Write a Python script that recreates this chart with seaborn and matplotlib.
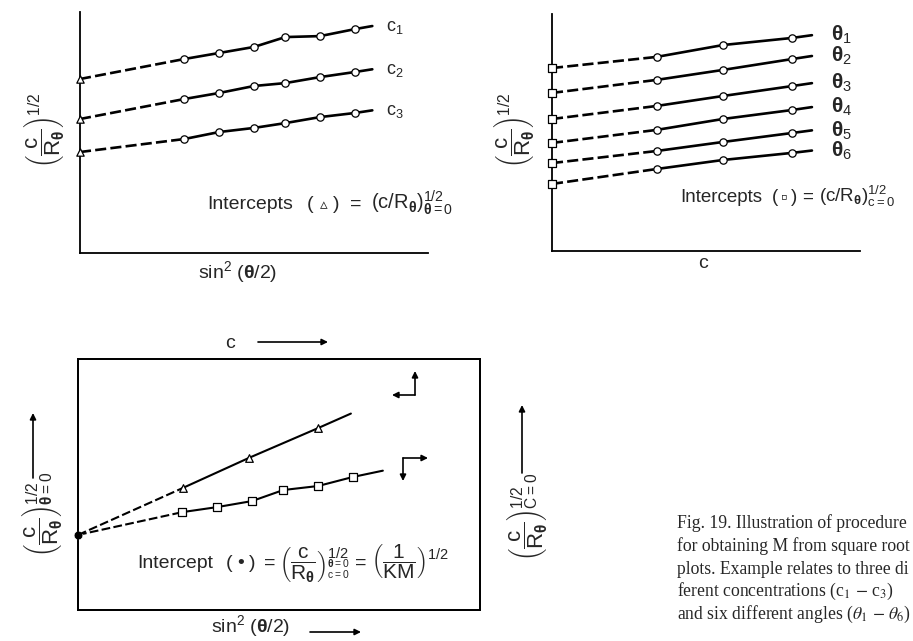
import numpy as np
import pandas as pd
import matplotlib
matplotlib.use("Agg")
import matplotlib.pyplot as plt
import seaborn as sns

# ---------------- data ----------------
# (a) square-root plot against sin^2(theta/2) for three concentrations
sin2 = [0.30, 0.40, 0.50, 0.59, 0.69, 0.79]
conc_names = ["c$_1$", "c$_2$", "c$_3$"]
c1_vals = [0.805, 0.830, 0.855, 0.896, 0.900, 0.929]
c2_vals = [0.639, 0.664, 0.693, 0.705, 0.730, 0.751]
c3_vals = [0.473, 0.502, 0.519, 0.539, 0.564, 0.581]
theta0_intercepts = [0.722, 0.556, 0.419]
sin2_line_end = 0.84

# (b) square-root plot against c for six angles
conc = [0.34, 0.555, 0.78]
angle_names = [r"$\mathbf{θ}_1$", r"$\mathbf{θ}_2$", r"$\mathbf{θ}_3$",
               r"$\mathbf{θ}_4$", r"$\mathbf{θ}_5$", r"$\mathbf{θ}_6$"]
t1_vals = [0.819, 0.869, 0.899]
t2_vals = [0.722, 0.764, 0.810]
t3_vals = [0.612, 0.654, 0.696]
t4_vals = [0.511, 0.557, 0.595]
t5_vals = [0.422, 0.460, 0.498]
t6_vals = [0.346, 0.384, 0.414]
c0_intercepts = [0.772, 0.667, 0.557, 0.456, 0.371, 0.283]
conc_line_end = 0.844

# (c) intercepts replotted; common intercept at the origin
double_intercept = 0.299
tri_vals = [0.486, 0.606, 0.725]      # theta = 0 intercepts vs c (top axis)
sq_vals = [0.390, 0.410, 0.434, 0.478, 0.494, 0.530]  # c = 0 intercepts vs sin^2 (bottom axis)
tri_line_end = 0.886
sq_line_end = 0.876

# ---------------- style ----------------
W, H = 913, 641
sns.set_theme(style="white")
plt.rcParams["font.family"] = ["Liberation Sans", "DejaVu Sans"]
plt.rcParams["mathtext.fontset"] = "custom"
plt.rcParams["mathtext.rm"] = "Liberation Sans"
plt.rcParams["mathtext.it"] = "Liberation Sans"
plt.rcParams["mathtext.bf"] = "Liberation Sans:bold"
plt.rcParams["axes.edgecolor"] = "black"
plt.rcParams["axes.linewidth"] = 1.3

fig = plt.figure(figsize=(W / 100, H / 100), dpi=100)
renderer = fig.canvas.get_renderer()


def fx(x):
    return x / W


def fy(y):
    return 1 - y / H


def px_axes(x0, y0, x1, y1):
    return fig.add_axes([fx(x0), fy(y1), (x1 - x0) / W, (y1 - y0) / H])


def chain(x, y, parts, size):
    """Lay out text pieces left to right on one baseline (x, y in pixels)."""
    for s, gap, kw in parts:
        t = fig.text(fx(x), fy(y), s, ha="left", va="baseline",
                     fontsize=kw.pop("fontsize", size), **kw)
        x += t.get_window_extent(renderer=renderer).width + gap


DASH = (0, (4.2, 1.6))
LW = 1.9


def fit_line(ax, xs, ys, x0, y0, x_end, marker, lw=LW, ms=28, intercept_marker=None):
    """Dashed extrapolation to the intercept, solid line through the points."""
    slope = np.polyfit(xs, ys, 1)[0]
    tail = ys[-1] + slope * (x_end - xs[-1])
    sns.lineplot(x=[x0, xs[0]], y=[y0, ys[0]], color="black", lw=lw,
                 linestyle=DASH, ax=ax, estimator=None, sort=False)
    sns.lineplot(x=list(xs) + [x_end], y=list(ys) + [tail], color="black", lw=lw,
                 ax=ax, estimator=None, sort=False)
    sns.scatterplot(x=xs, y=ys, marker=marker, s=ms, facecolor="white",
                    edgecolor="black", linewidth=0.9, zorder=4, ax=ax, clip_on=False)
    if intercept_marker is not None:
        sns.scatterplot(x=[x0], y=[y0], marker=intercept_marker, s=ms, facecolor="white",
                        edgecolor="black", linewidth=0.9, zorder=4, ax=ax, clip_on=False)
    return tail


ylab = r"$\left(\dfrac{c}{R_{\mathbf{θ}}}\right)^{1/2}"
YLAB_SIZE = 16

# ---------------- panel (a) ----------------
axA = px_axes(80, 12, 428, 253)
axA.set_xlim(0, 1)
axA.set_ylim(0, 1)
for s in ["top", "right"]:
    axA.spines[s].set_visible(False)
axA.set_xticks([])
axA.set_yticks([])
for vals, icpt, name in zip([c1_vals, c2_vals, c3_vals], theta0_intercepts, conc_names):
    tail = fit_line(axA, sin2, vals, 0, icpt, sin2_line_end, "o", intercept_marker="^")
    axA.annotate(name, (sin2_line_end, tail), xytext=(10, -1), textcoords="offset points",
                 ha="left", va="center", fontsize=13)
fig.text(fx(44), fy(130), ylab + "$", rotation=90, ha="center", va="center",
         fontsize=YLAB_SIZE)
fig.text(fx(238), fy(272), r"sin$^2$ ($\mathbf{θ}$/2)", ha="center", va="center", fontsize=14)
chain(207, 209, [("Intercepts", 14, {}),
                 ("(", 6, {}),
                 ("▵", 6, {"family": "DejaVu Sans", "fontsize": 11}),
                 (")", 10, {}),
                 ("=", 10, {}),
                 (r"(c/R$_{\mathbf{θ}}$)$^{1/2}_{\mathbf{θ}=0}$", 0, {"fontsize": 14.5})], 14)

# ---------------- panel (b) ----------------
axB = px_axes(552, 14, 860, 251)
axB.set_xlim(0, 1)
axB.set_ylim(0, 1)
for s in ["top", "right"]:
    axB.spines[s].set_visible(False)
axB.set_xticks([])
axB.set_yticks([])
for vals, icpt, name in zip([t1_vals, t2_vals, t3_vals, t4_vals, t5_vals, t6_vals],
                            c0_intercepts, angle_names):
    tail = fit_line(axB, conc, vals, 0, icpt, conc_line_end, "o", intercept_marker="s")
    axB.annotate(name, (conc_line_end, tail), xytext=(14, 0), textcoords="offset points",
                 ha="left", va="center", fontsize=15)
fig.text(fx(514), fy(130), ylab + "$", rotation=90, ha="center", va="center",
         fontsize=YLAB_SIZE)
fig.text(fx(703), fy(263), "c", ha="center", va="center", fontsize=14)
chain(680, 202, [("Intercepts", 10, {}),
                 ("(", 3, {}),
                 ("▫", 3, {}),
                 (")", 5, {}),
                 ("=", 6, {}),
                 (r"(c/R$_{\mathbf{θ}}$)$^{1/2}_{c=0}$", 0, {})], 13.5)

# ---------------- panel (c) ----------------
axC = px_axes(78, 359, 480, 610)
axC.set_xlim(0, 402 / 348)
axC.set_ylim(0, 1)
axC.set_xticks([])
axC.set_yticks([])
axCt = axC.twiny()
axCt.set_xlim(0, 402 / 308)
axCt.set_xticks([])
axCt.set_yticks([])
fit_line(axCt, conc, tri_vals, 0, double_intercept, tri_line_end, "^", lw=1.5, ms=30)
fit_line(axC, sin2, sq_vals, 0, double_intercept, sq_line_end, "s", lw=1.5, ms=30)
sns.scatterplot(x=[0], y=[double_intercept], color="black", s=40, zorder=5,
                ax=axC, clip_on=False)
axC.set_xlabel("")
axC.set_ylabel("")
axCt.set_xlabel("")

arrow = dict(arrowstyle="-|>", color="black", lw=1.2, mutation_scale=9,
             shrinkA=0, shrinkB=0)


def farrow(x0, y0, x1, y1):
    fig.add_artist(matplotlib.patches.FancyArrowPatch(
        (fx(x0), fy(y0)), (fx(x1), fy(y1)), transform=fig.transFigure, **arrow))


# axis direction keys inside the box
farrow(415, 395, 415, 371)
farrow(415, 395, 392, 395)
farrow(403, 458, 403, 481)
farrow(403, 458, 428, 458)

# outer axis labels with arrows
fig.text(fx(230), fy(344), "c", ha="center", va="center", fontsize=14)
farrow(258, 342, 328, 342)
fig.text(fx(251), fy(626), r"sin$^2$ ($\mathbf{θ}$/2)", ha="center", va="center", fontsize=14)
farrow(310, 632, 361, 632)
fig.text(fx(42), fy(514), ylab + r"_{\mathbf{θ}=0}$", rotation=90,
         ha="center", va="center", fontsize=YLAB_SIZE)
farrow(33, 478, 33, 413)
fig.text(fx(527), fy(517), ylab + r"_{C=0}$", rotation=90,
         ha="center", va="center", fontsize=YLAB_SIZE)
farrow(522, 473, 522, 405)

chain(137, 568, [("Intercept", 13, {}),
                 ("(", 5, {}),
                 ("•", 5, {}),
                 (")", 8, {}),
                 ("=", 4, {}),
                 (r"$\left(\dfrac{c}{R_{\mathbf{θ}}}\right)^{1/2}_{\genfrac{}{}{0}{}{\mathbf{θ}=0}{c=0}}$", 5, {"fontsize": 15}),
                 ("=", 4, {}),
                 (r"$\left(\dfrac{1}{KM}\right)^{1/2}$", 0, {"fontsize": 15})], 14)

# ---------------- caption ----------------
caption = ["Fig. 19. Illustration of procedure",
           "for obtaining M from square root",
           "plots. Example relates to three di",
           r"ferent concentrations (c$_1$ $-$ c$_3$)",
           r"and six different angles ($\theta_1$ $-$ $\theta_6$)"]
for i, line in enumerate(caption):
    fig.text(fx(677), fy(528 + 22.75 * i), line, ha="left", va="baseline",
             fontsize=12.7, family="Liberation Serif", math_fontfamily="stix")

fig.savefig("out.png", dpi=100)
